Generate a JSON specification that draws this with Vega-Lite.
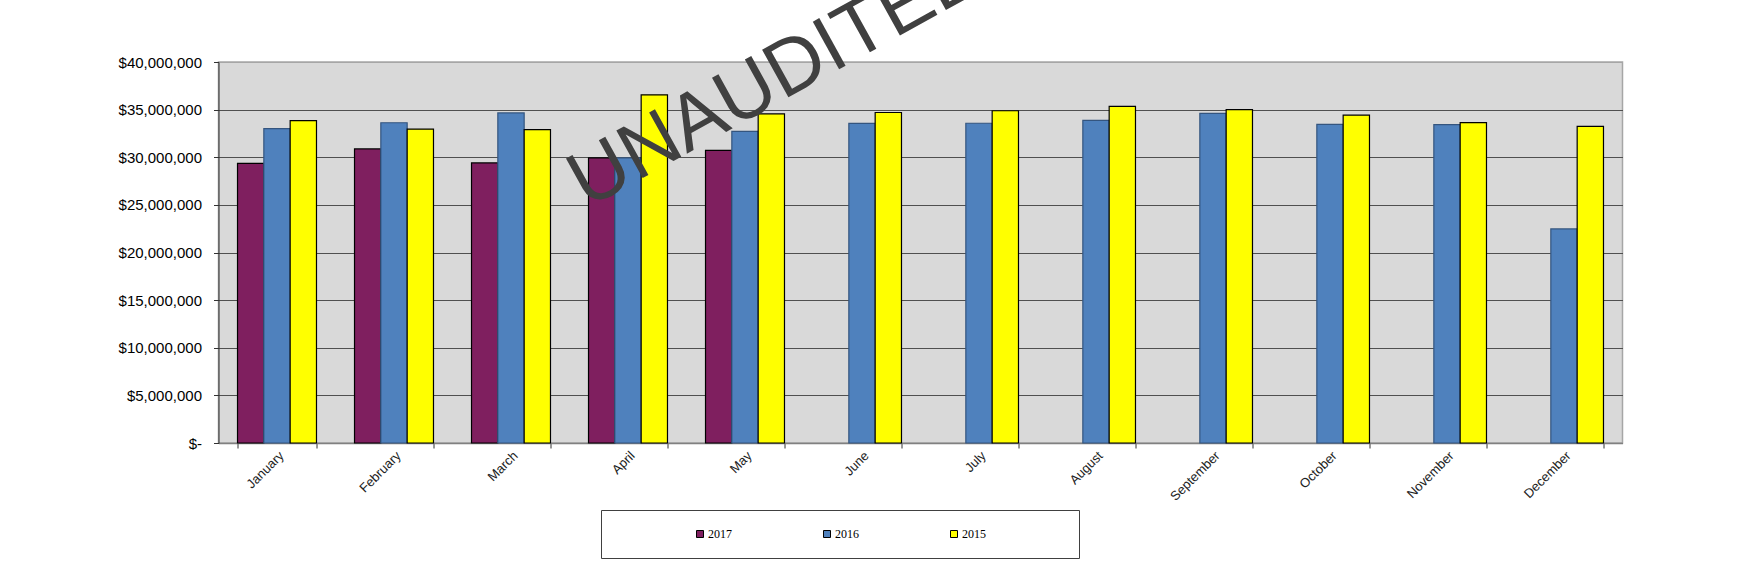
{
  "$schema": "https://vega.github.io/schema/vega-lite/v6.json",
  "width": 1404,
  "height": 381,
  "autosize": {"type": "none"},
  "padding": {"left": 218.5, "top": 62, "right": 116.5, "bottom": 142},
  "background": "white",
  "config": {
    "view": {"fill": "#d9d9d9", "stroke": "#a6a6a6", "strokeWidth": 1.5},
    "font": "Liberation Sans"
  },
  "layer": [
    {
      "data": {
        "values": [
          {"month": "January", "year": "2017", "value": 29350000},
          {"month": "January", "year": "2016", "value": 33000000},
          {"month": "January", "year": "2015", "value": 33850000},
          {"month": "February", "year": "2017", "value": 30870000},
          {"month": "February", "year": "2016", "value": 33620000},
          {"month": "February", "year": "2015", "value": 32960000},
          {"month": "March", "year": "2017", "value": 29400000},
          {"month": "March", "year": "2016", "value": 34650000},
          {"month": "March", "year": "2015", "value": 32900000},
          {"month": "April", "year": "2017", "value": 29930000},
          {"month": "April", "year": "2016", "value": 29930000},
          {"month": "April", "year": "2015", "value": 36550000},
          {"month": "May", "year": "2017", "value": 30720000},
          {"month": "May", "year": "2016", "value": 32720000},
          {"month": "May", "year": "2015", "value": 34550000},
          {"month": "June", "year": "2016", "value": 33550000},
          {"month": "June", "year": "2015", "value": 34700000},
          {"month": "July", "year": "2016", "value": 33570000},
          {"month": "July", "year": "2015", "value": 34880000},
          {"month": "August", "year": "2016", "value": 33870000},
          {"month": "August", "year": "2015", "value": 35350000},
          {"month": "September", "year": "2016", "value": 34610000},
          {"month": "September", "year": "2015", "value": 35000000},
          {"month": "October", "year": "2016", "value": 33450000},
          {"month": "October", "year": "2015", "value": 34420000},
          {"month": "November", "year": "2016", "value": 33430000},
          {"month": "November", "year": "2015", "value": 33630000},
          {"month": "December", "year": "2016", "value": 22470000},
          {"month": "December", "year": "2015", "value": 33250000}
        ]
      },
      "mark": {"type": "bar", "strokeWidth": 1.2},
      "encoding": {
        "x": {
          "field": "month",
          "type": "nominal",
          "sort": ["January", "February", "March", "April", "May", "June", "July", "August", "September", "October", "November", "December"],
          "scale": {
            "domain": ["January", "February", "March", "April", "May", "June", "July", "August", "September", "October", "November", "December"],
            "paddingInner": 0.325,
            "paddingOuter": 0.1625
          },
          "axis": {
            "title": null,
            "labelAngle": -45,
            "labelFontSize": 13,
            "labelColor": "#222222",
            "tickBand": "extent",
            "tickSize": 5,
            "tickColor": "#333333",
            "domainColor": "#808080",
            "domainWidth": 1.5,
            "labelPadding": 1,
            "grid": false
          }
        },
        "xOffset": {
          "field": "year",
          "type": "nominal",
          "scale": {"domain": ["2017", "2016", "2015"], "paddingInner": 0, "paddingOuter": 0}
        },
        "y": {
          "field": "value",
          "type": "quantitative",
          "scale": {"domain": [0, 40000000], "nice": false},
          "axis": {
            "title": null,
            "values": [0, 5000000, 10000000, 15000000, 20000000, 25000000, 30000000, 35000000, 40000000],
            "labelExpr": "datum.value == 0 ? '$-' : '$' + format(datum.value, ',')",
            "labelFontSize": 15,
            "labelColor": "#000000",
            "labelPadding": 12,
            "tickSize": 5,
            "tickColor": "#333333",
            "domainColor": "#333333",
            "gridColor": {"condition": {"test": "datum.value == 40000000", "value": "#a6a6a6"}, "value": "#505050"},
            "gridWidth": 1.2
          }
        },
        "color": {
          "field": "year",
          "type": "nominal",
          "scale": {"domain": ["2017", "2016", "2015"], "range": ["#7f1f5f", "#4f81bd", "#ffff00"]},
          "legend": {
            "orient": "none",
            "legendX": 382.5,
            "legendY": 448,
            "direction": "horizontal",
            "title": "\u200b\u00a0\u00a0\u00a0\u00a0\u00a0\u00a0\u00a0\u00a0\u00a0\u00a0\u00a0\u00a0\u00a0\u00a0\u00a0\u00a0\u00a0\u00a0\u00a0\u200b",
            "titleOrient": "left",
            "titlePadding": 18,
            "titleFont": "Liberation Serif",
            "titleFontSize": 12,
            "padding": 18,
            "strokeColor": "#404040",
            "fillColor": "white",
            "symbolType": "square",
            "symbolSize": 49,
            "symbolStrokeColor": "#000000",
            "symbolStrokeWidth": 1,
            "symbolOpacity": 1,
            "labelFont": "Liberation Serif",
            "labelFontSize": 12,
            "labelColor": "#000000",
            "labelOffset": 2,
            "columnPadding": 89,
            "labelExpr": "datum.label == '2015' ? datum.label + '\u00a0\u00a0\u00a0\u00a0\u00a0\u00a0\u00a0\u00a0\u00a0\u00a0\u00a0\u00a0\u00a0\u00a0\u00a0\u00a0\u00a0\u00a0\u00a0\u00a0\u00a0\u00a0\u00a0\u00a0\u00a0\u200b' : datum.label"
          }
        },
        "stroke": {
          "condition": {"test": "datum.year == '2016'", "value": "#34557f"},
          "value": "#000000"
        }
      }
    },
    {
      "data": {"values": [{"month": "May", "value": 40000000, "label": "UNAUDITED"}]},
      "mark": {
        "type": "text",
        "angle": 331,
        "fontSize": 79,
        "font": "Liberation Sans",
        "color": "#404040",
        "align": "center",
        "baseline": "middle",
        "dx": 21,
        "dy": 28
      },
      "encoding": {
        "x": {"field": "month", "type": "nominal"},
        "y": {"field": "value", "type": "quantitative"},
        "text": {"field": "label"}
      }
    }
  ]
}
